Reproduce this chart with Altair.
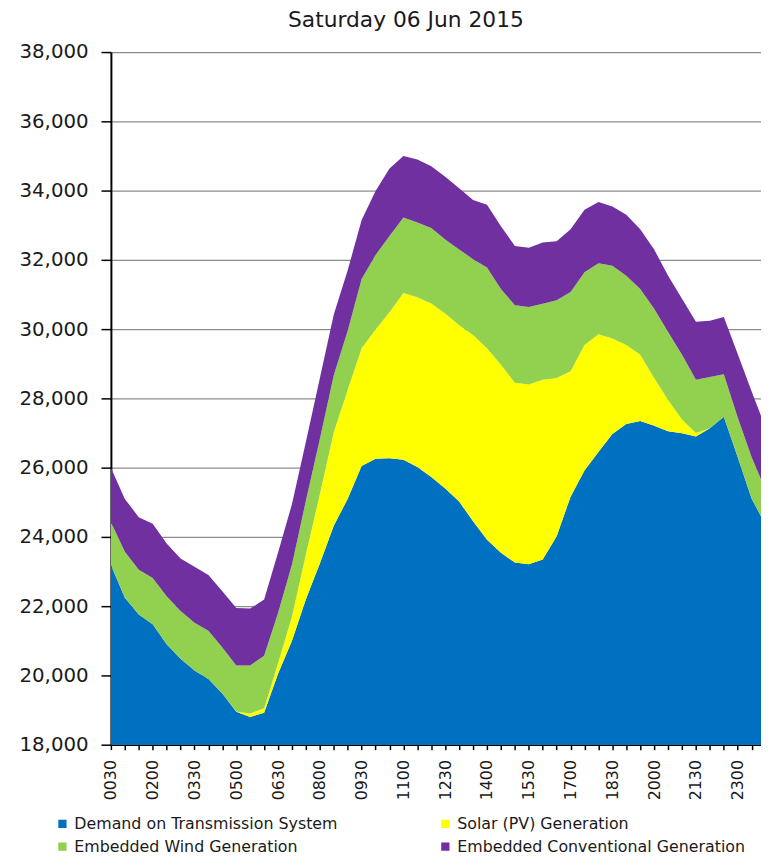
import altair as alt
import pandas as pd

# Half-hour settlement period labels
times = ["0030", "0100", "0130", "0200", "0230", "0300", "0330", "0400", "0430", "0500",
         "0530", "0600", "0630", "0700", "0730", "0800", "0830", "0900", "0930", "1000",
         "1030", "1100", "1130", "1200", "1230", "1300", "1330", "1400", "1430", "1500",
         "1530", "1600", "1630", "1700", "1730", "1800", "1830", "1900", "1930", "2000",
         "2030", "2100", "2130", "2200", "2230", "2300", "2330", "2400"]

# stacking order: bottom to top
series = ["Demand on Transmission System", "Solar (PV) Generation",
          "Embedded Wind Generation", "Embedded Conventional Generation"]
# legend order (column-major, 2 columns)
legend_order = ["Demand on Transmission System", "Embedded Wind Generation",
                "Solar (PV) Generation", "Embedded Conventional Generation"]
legend_colors = ["#0070C0", "#92D050", "#FFFF00", "#7030A0"]

demand = [23190, 22240, 21760, 21480, 20900, 20480, 20140, 19900, 19480, 18950,
          18800, 18920, 20050, 21000, 22200, 23230, 24320, 25100, 26050, 26260,
          26270, 26230, 26020, 25730, 25400, 25020, 24450, 23920, 23540, 23260,
          23210, 23350, 24020, 25160, 25920, 26450, 26970, 27260, 27350, 27210,
          27050, 26990, 26900, 27140, 27470, 26300, 25100, 24350]
solar = [0, 0, 0, 0, 0, 0, 0, 0, 0, 10,
         100, 130, 300, 700, 1300, 2000, 2700, 3150, 3400, 3730,
         4220, 4810, 4900, 5010, 5050, 5090, 5380, 5530, 5430, 5190,
         5190, 5190, 4570, 3620, 3620, 3400, 2760, 2280, 1910, 1380,
         900, 400, 100, 0, 0, 0, 0, 0]
wind = [1240, 1330, 1290, 1330, 1390, 1380, 1380, 1390, 1330, 1330,
        1390, 1520, 1450, 1500, 1550, 1600, 1650, 1700, 2000, 2150,
        2200, 2180, 2160, 2180, 2140, 2190, 2190, 2330, 2190, 2240,
        2240, 2190, 2240, 2290, 2100, 2050, 2100, 2000, 1900, 2000,
        1970, 1870, 1540, 1480, 1230, 1150, 1200, 1000]
conventional = [1570, 1525, 1520, 1570, 1520, 1520, 1620, 1610, 1620, 1660,
                1640, 1620, 1750, 1750, 1700, 1750, 1750, 1750, 1700, 1850,
                1950, 1780, 1820, 1780, 1810, 1770, 1710, 1810, 1810, 1710,
                1710, 1770, 1710, 1810, 1810, 1770, 1710, 1760, 1720, 1710,
                1620, 1620, 1670, 1620, 1650, 1830, 1900, 1800]

y_ticks = [18000, 20000, 22000, 24000, 26000, 28000, 30000, 32000, 34000, 36000, 38000]

rows = []
for k, (name, vals) in enumerate(zip(series, [demand, solar, wind, conventional])):
    for i, v in enumerate(vals):
        rows.append({"idx": i, "time": times[i], "series": name, "k": k, "value": v})
df = pd.DataFrame(rows)

label_array = "[" + ",".join("'" + t + "'" for t in times) + "]"
label_expr = f"datum.value % 3 == 0 ? {label_array}[datum.value] : ''"

font = "DejaVu Sans"

chart = alt.Chart(df).mark_area(clip=True, interpolate="linear").encode(
    x=alt.X("idx:Q",
            scale=alt.Scale(domain=[0, 46.67], nice=False, zero=False),
            axis=alt.Axis(title=None, values=list(range(47)), labelExpr=label_expr,
                          labelAngle=270, labelFontSize=16, labelFont=font,
                          labelColor="#1a1a1a", labelPadding=10, labelOverlap=False,
                          labelFlush=False, tickSize=5, tickColor="#000000",
                          tickWidth=1.5, domainColor="#000000", domainWidth=1.5,
                          grid=False)),
    y=alt.Y("value:Q", stack="zero",
            scale=alt.Scale(domain=[18000, 38000], nice=False, zero=False),
            axis=alt.Axis(title=None, values=y_ticks, format=",.0f", labelFontSize=20,
                          labelFont=font, labelColor="#1a1a1a", labelPadding=13,
                          tickSize=10, tickColor="#000000", tickWidth=1.5,
                          domainColor="#000000", domainWidth=2,
                          grid=True, gridColor="#8c8c8c", gridWidth=1.2)),
    color=alt.Color("series:N",
                    scale=alt.Scale(domain=legend_order, range=legend_colors),
                    legend=alt.Legend(title=None, orient="none", legendX=-57, legendY=772,
                                      columns=2, columnPadding=100, rowPadding=7,
                                      symbolType="square", symbolSize=70,
                                      symbolStrokeWidth=0, labelFont=font,
                                      labelFontSize=16, labelColor="#1a1a1a",
                                      labelOffset=4, labelLimit=400)),
    order=alt.Order("k:Q", sort="ascending"),
).properties(
    width=657,
    height=700,
    title=alt.Title("Saturday 06 Jun 2015", anchor="start", dx=272, offset=10,
                    font=font, fontSize=22, fontWeight="normal", color="#1a1a1a"),
    autosize=alt.AutoSizeParams(type="none"),
    padding={"left": 104, "top": 40, "right": 0, "bottom": 112},
).configure_view(stroke=None)

chart.save("out.html", embed_options={"renderer": "svg", "actions": False})
